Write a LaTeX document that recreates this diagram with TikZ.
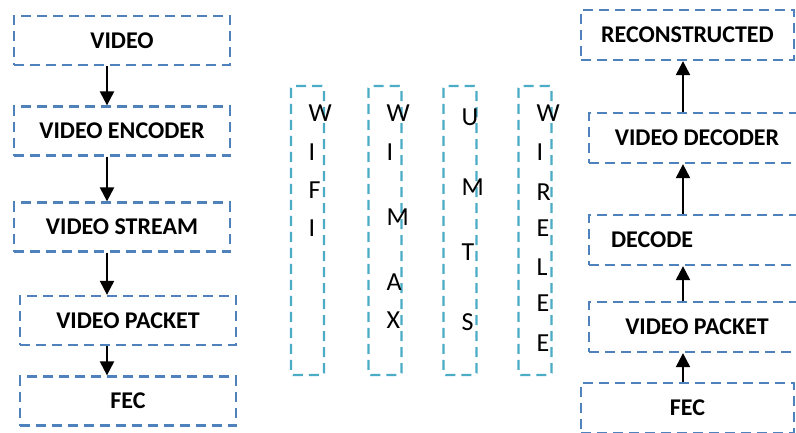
\documentclass[tikz,border=0pt]{standalone}
\usepackage{fontspec}
\setmainfont{Carlito}
\usetikzlibrary{arrows.meta}
\definecolor{boxblue}{HTML}{4F81BD}
\definecolor{boxteal}{HTML}{4BACC6}
\tikzset{
  box/.style={draw=boxblue, line width=2.3pt, dash pattern=on 10pt off 6pt,
    minimum height=49pt, inner sep=0pt, font=\fontsize{24}{28}\selectfont\bfseries},
  netbox/.style={draw=boxteal, line width=2.4pt, dash pattern=on 10pt off 6pt,
    rounded corners=2pt, minimum width=33pt, minimum height=289pt, inner sep=0pt},
  letter/.style={anchor=west, inner sep=0pt, text height=16pt, text depth=0pt,
    font=\fontsize{26}{30}\selectfont},
  arr/.style={line width=2.3pt, -{Triangle[length=14pt,width=14pt]}}
}
\begin{document}
\begin{tikzpicture}[x=1pt,y=-1pt]
\clip (0,0) rectangle (796,432);
\fill[white] (0,0) rectangle (796,432);
% left column
\node[box, minimum width=216pt] (v1) at (122,40.5) {VIDEO};
\node[box, minimum width=216pt] (v2) at (122,131) {VIDEO ENCODER};
\node[box, minimum width=216pt] (v3) at (122,227) {VIDEO STREAM};
\node[box, minimum width=216pt] (v4) at (128,320.5) {VIDEO PACKET};
\node[box, minimum width=216pt] (v5) at (128,401) {FEC};
\coordinate (ax) at (107,0);
\draw[arr] (v1.south -| ax) -- (v2.north -| ax);
\draw[arr] (v2.south -| ax) -- (v3.north -| ax);
\draw[arr] (v3.south -| ax) -- (v4.north -| ax);
\draw[arr] (v4.south -| ax) -- (v5.north -| ax);
% middle columns
\node[netbox] (n1) at (307.5,230.5) {};
\node[netbox] (n2) at (385,230.5) {};
\node[netbox] (n3) at (460,230.5) {};
\node[netbox] (n4) at (535,230.5) {};
\foreach \c/\y [count=\i] in {W/113,I/152,F/190,I/228}
  \node[letter] (wifi\i) at (308.5,\y) {\c};
\foreach \c/\y [count=\i] in {W/113,I/152,M/217,A/282,X/320}
  \node[letter] (wimax\i) at (386.5,\y) {\c};
\foreach \c/\y [count=\i] in {U/117,M/187,T/252,S/322}
  \node[letter] (umts\i) at (461.5,\y) {\c};
\foreach \c/\y [count=\i] in {W/113,I/152,R/192,E/228,L/267,E/303,E/343}
  \node[letter] (wl\i) at (536.5,\y) {\c};
% right column
\node[box, minimum width=213pt, minimum height=50pt] (r1) at (687.5,35) {RECONSTRUCTED};
\node[box, minimum width=216pt, minimum height=50pt] (r2) at (697,138) {VIDEO DECODER};
\node[box, minimum width=216pt, minimum height=50pt] (r3) at (697,240) {\makebox[172pt][l]{DECODE}};
\node[box, minimum width=216pt, minimum height=50pt] (r4) at (697,327) {VIDEO PACKET};
\node[box, minimum width=213pt, minimum height=50pt] (r5) at (687.5,408) {FEC\hspace{43pt}};
\coordinate (bx) at (683,0);
\draw[arr] (r5.north -| bx) -- (r4.south -| bx);
\draw[arr] (r4.north -| bx) -- (r3.south -| bx);
\draw[arr] (r3.north -| bx) -- (r2.south -| bx);
\draw[arr] (r2.north -| bx) -- (r1.south -| bx);
\end{tikzpicture}
\end{document}
